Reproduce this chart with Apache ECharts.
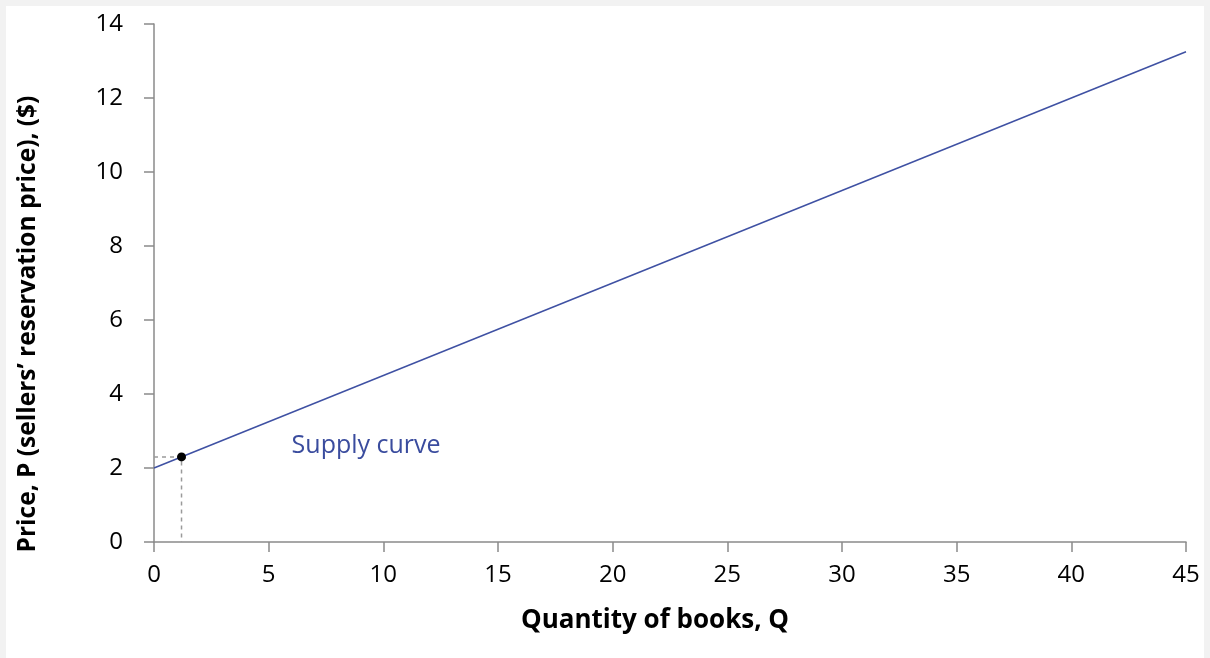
<!DOCTYPE html>
<html>
<head>
<meta charset="utf-8">
<script src="https://cdn.jsdelivr.net/npm/echarts@6/dist/echarts.min.js"></script>
<style>
html,body{margin:0;padding:0;background:#f2f2f2;}
#card{position:absolute;left:6px;top:6px;width:1198px;height:652px;background:#fff;}
#chart{position:absolute;left:0;top:0;width:1210px;height:658px;}
</style>
</head>
<body>
<div id="card"></div>
<div id="chart"></div>
<script>
// Data
const supplyLine = [[0, 2], [45, 13.25]];
const marketPoint = [[1.2, 2.3]];
const guideLines = [[0, 2.3], [1.2, 2.3], [1.2, 0]];
const curveLabel = [[6, 2.6, 'Supply curve']];
const xTicks = { min: 0, max: 45, interval: 5 };
const yTicks = { min: 0, max: 14, interval: 2 };
const xName = 'Quantity of books, Q';
const yName = 'Price, P (sellers\u2019 reservation price), ($)';

const FONT = 'Open Sans';
const axisGray = '#8a8a8a';
const chart = echarts.init(document.getElementById('chart'));
chart.setOption({
  backgroundColor: 'transparent',
  animation: false,
  grid: { left: 154, right: 24, top: 24, bottom: 116, containLabel: false },
  xAxis: {
    type: 'value', min: xTicks.min, max: xTicks.max, interval: xTicks.interval,
    axisLine: { show: true, lineStyle: { color: axisGray, width: 1.5 } },
    axisTick: { show: true, length: 10, lineStyle: { color: axisGray, width: 1.5 } },
    axisLabel: { color: '#000', fontFamily: FONT, fontSize: 24, margin: 21 },
    splitLine: { show: false }
  },
  yAxis: {
    type: 'value', min: yTicks.min, max: yTicks.max, interval: yTicks.interval,
    axisLine: { show: true, lineStyle: { color: axisGray, width: 1.5 } },
    axisTick: { show: true, length: 10, lineStyle: { color: axisGray, width: 1.5 } },
    axisLabel: { color: '#000', fontFamily: FONT, fontSize: 24, margin: 31 },
    splitLine: { show: false }
  },
  graphic: [
    { type: 'text', x: 655, y: 621, style: { text: xName, font: 'bold 26px "Open Sans"', fill: '#000', align: 'center', verticalAlign: 'middle' } },
    { type: 'text', x: 16, y: 324, rotation: Math.PI / 2, style: { text: yName, font: 'bold 24.5px "Open Sans"', fill: '#000', align: 'center', verticalAlign: 'top' } }
  ],
  series: [
    {
      type: 'line', data: guideLines, symbol: 'none', silent: true,
      lineStyle: { color: '#9a9a9a', width: 1.5, type: [4, 4] }, z: 1
    },
    {
      type: 'line', data: supplyLine, symbol: 'none', silent: true,
      lineStyle: { color: '#3f51a3', width: 1.5 }, z: 2
    },
    {
      type: 'scatter', data: marketPoint, symbol: 'circle', symbolSize: 9,
      itemStyle: { color: '#000', opacity: 1 }, z: 3
    },
    {
      type: 'scatter', data: curveLabel, symbolSize: 0, silent: true,
      itemStyle: { opacity: 1 },
      label: { show: true, position: [0, 0], align: 'left', verticalAlign: 'middle',
        formatter: p => p.data[2], color: '#3a4c9e', fontFamily: FONT, fontSize: 25 }
    }
  ]
});
</script>
</body>
</html>
